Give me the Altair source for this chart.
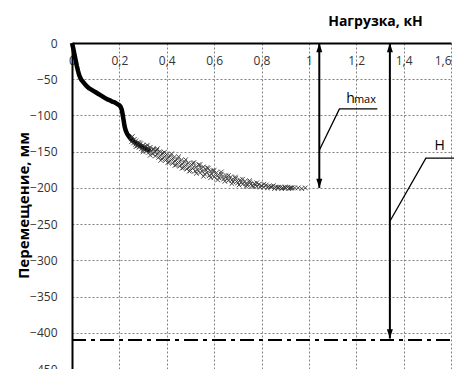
import altair as alt
import pandas as pd

# ---- data ----
x_ticks = [0, 0.2, 0.4, 0.6, 0.8, 1.0, 1.2, 1.4, 1.6]
y_ticks = [0, -50, -100, -150, -200, -250, -300, -350, -400, -450]

# dense initial part of the load-displacement curve
load_dense = [0, 0.005, 0.01, 0.015, 0.02, 0.025, 0.03, 0.035, 0.04, 0.05, 0.06, 0.07,
              0.08, 0.09, 0.10, 0.11, 0.12, 0.13, 0.14, 0.15, 0.16, 0.17, 0.18, 0.19,
              0.20, 0.205, 0.21, 0.213, 0.216, 0.219, 0.222, 0.226, 0.232, 0.24, 0.25,
              0.26, 0.27, 0.28, 0.29, 0.30, 0.31, 0.32, 0.33]
disp_dense = [0, -7, -15, -23, -31, -38, -44, -48, -51, -55, -59, -62,
              -64, -66, -68, -70, -72, -74, -76, -78, -79, -81, -82, -84,
              -86, -88, -92, -97, -103, -109, -115, -120, -125, -129, -133,
              -136, -138, -140, -142, -144, -146, -147, -149]

# scattered measurements
load_scatter = [0.25, 0.252, 0.255, 0.26, 0.263, 0.268, 0.27, 0.275, 0.28, 0.283, 0.29, 0.293,
                0.3, 0.302, 0.308, 0.312, 0.318, 0.32, 0.325, 0.33, 0.335, 0.34, 0.343, 0.35,
                0.352, 0.358, 0.36, 0.366, 0.37, 0.375, 0.38, 0.384, 0.39, 0.395, 0.4, 0.404,
                0.41, 0.415, 0.42, 0.425, 0.43, 0.435, 0.44, 0.445, 0.45, 0.455, 0.46, 0.465,
                0.47, 0.475, 0.48, 0.485, 0.49, 0.495, 0.5, 0.505, 0.51, 0.515, 0.52, 0.525,
                0.53, 0.535, 0.54, 0.545, 0.55, 0.555, 0.56, 0.565, 0.57, 0.575, 0.58, 0.585,
                0.59, 0.595, 0.6, 0.61, 0.615, 0.62, 0.63, 0.635, 0.64, 0.65, 0.655, 0.66,
                0.67, 0.675, 0.68, 0.69, 0.695, 0.7, 0.71, 0.715, 0.72, 0.73, 0.735, 0.74,
                0.75, 0.755, 0.76, 0.77, 0.775, 0.78, 0.79, 0.8, 0.81, 0.82, 0.83, 0.84,
                0.85, 0.86, 0.87, 0.88, 0.89, 0.9, 0.91, 0.92, 0.93, 0.94, 0.955, 0.97, 0.985]
disp_scatter = [-131, -136, -129, -138, -133, -140, -135, -142, -137, -144, -139, -146,
                -141, -147, -143, -149, -141, -146, -151, -144, -149, -153, -146, -151,
                -156, -148, -153, -158, -150, -155, -160, -152, -157, -162, -154, -159,
                -164, -156, -161, -166, -158, -163, -168, -160, -165, -170, -162, -167,
                -172, -164, -169, -174, -166, -171, -176, -168, -173, -165, -177, -171,
                -175, -168, -179, -173, -177, -171, -181, -175, -179, -173, -183, -177,
                -181, -176, -185, -179, -183, -186, -181, -185, -188, -183, -187, -190,
                -185, -189, -192, -187, -191, -193, -189, -192, -195, -191, -194, -196,
                -192, -195, -197, -194, -196, -198, -195, -197, -199, -196, -198, -199,
                -197, -199, -200, -199, -200, -200, -199, -200, -200, -200, -200, -201, -200]

# second pass of readings (outer edges of the scatter band)
load_scatter2 = [0.27, 0.285, 0.3, 0.315, 0.33, 0.345, 0.36, 0.375, 0.39, 0.405, 0.42, 0.435,
                 0.45, 0.465, 0.48, 0.495, 0.51, 0.525, 0.54, 0.555, 0.57, 0.585, 0.6, 0.615,
                 0.63, 0.645, 0.66, 0.675, 0.69, 0.705, 0.72, 0.735, 0.75, 0.765, 0.78, 0.795,
                 0.81, 0.825, 0.84, 0.855, 0.87, 0.885, 0.9, 0.915, 0.925]
disp_scatter2 = [-143, -138, -150, -143, -155, -147, -146, -162, -151, -165, -153, -169,
                 -157, -173, -161, -177, -166, -180, -168, -184, -172, -186, -176, -189,
                 -178, -191, -183, -194, -185, -196, -188, -198, -190, -198, -193, -199,
                 -195, -200, -198, -201, -199, -201, -199, -201, -200]

dashdot_level = [-410]

arrow_x = [1.044, 1.342]
arrow_top = [0, 0]
arrow_bottom = [-200, -408]

# leader lines (label callouts)
leader_name = ["hmax", "hmax", "hmax", "H", "H", "H"]
leader_x = [1.044, 1.129, 1.289, 1.342, 1.494, 1.64]
leader_y = [-148, -91, -91, -246, -159, -159]

label_text = ["h", "max", "H"]
label_x = [1.158, 1.19, 1.53]
label_y = [-83, -83, -148]
label_size = [14, 11, 14]

W, H = 379, 326
FONT = "Open Sans"

xs = alt.Scale(domain=[0, 1.6], nice=False)
ys = alt.Scale(domain=[-450, 0], nice=False)

dense_df = pd.DataFrame({"load": load_dense, "disp": disp_dense})
scatter_df = pd.DataFrame({"load": load_scatter + load_scatter2,
                           "disp": disp_scatter + disp_scatter2})

x_axis = alt.Axis(
    orient="top", values=x_ticks, grid=True, gridDash=[2, 2], gridColor="#808080",
    gridWidth=1, domainColor="black", domainWidth=2, ticks=False, tickSize=0,
    labelPadding=-24, labelFlush=False, labelFont=FONT, labelFontSize=12,
    labelColor="#333333",
    labelAlign={"expr": "datum.value >= 1.6 ? 'right' : 'center'"},
    labelExpr="replace(format(datum.value, '.1~f'), '.', ',')",
    title="Нагрузка, кН", titleFont=FONT, titleFontSize=14, titleFontWeight="bold",
    titleColor="black", titleX=303, titleY=-22, titleAlign="center",
    titleBaseline="middle", titleAngle=0,
)
y_axis = alt.Axis(
    orient="left", values=y_ticks, grid=True, gridDash=[2, 2], gridColor="#808080",
    gridWidth=1, domainColor="black", domainWidth=2, ticks=False, tickSize=0,
    labelPadding=15, labelFlush=False, labelFont=FONT, labelFontSize=12,
    labelColor="#333333",
    title="Перемещение, мм", titleFont=FONT, titleFontSize=15, titleFontWeight="bold",
    titleColor="black", titleX=-49, titleY=162, titleAlign="center",
    titleBaseline="middle", titleAngle=270,
)


def X(field):
    return alt.X(field, scale=xs, axis=x_axis)


def Y(field):
    return alt.Y(field, scale=ys, axis=y_axis)


line = alt.Chart(dense_df).mark_line(color="black", strokeWidth=4.5).encode(
    x=X("load:Q"), y=Y("disp:Q"),
)

pts = alt.Chart(scatter_df).mark_point(
    shape="M-1,-1L1,1M-1,1L1,-1", size=22, strokeWidth=1, color="#333333",
    filled=False, opacity=0.85,
).encode(x=X("load:Q"), y=Y("disp:Q"))

dash_df = pd.DataFrame({"y": dashdot_level, "x0": [0], "x1": [1.6]})
dashdot = alt.Chart(dash_df).mark_rule(
    color="black", strokeWidth=2.2, strokeDash=[14, 5, 4, 5]
).encode(x=X("x0:Q"), x2="x1:Q", y=Y("y:Q"))

arr_df = pd.DataFrame({"x": arrow_x, "top": arrow_top, "bottom": arrow_bottom})
arrows = alt.Chart(arr_df).mark_rule(color="black", strokeWidth=2).encode(
    x=X("x:Q"), y=Y("top:Q"), y2="bottom:Q",
)
heads_top = alt.Chart(arr_df).mark_point(
    shape="M0,0L-0.75,2.3L0.75,2.3Z", size=64, filled=True, color="black", opacity=1
).encode(x=X("x:Q"), y=Y("top:Q"))
heads_bot = alt.Chart(arr_df).mark_point(
    shape="M0,0L-0.75,-2.3L0.75,-2.3Z", size=64, filled=True, color="black", opacity=1
).encode(x=X("x:Q"), y=Y("bottom:Q"))

lead_df = pd.DataFrame({"name": leader_name, "x": leader_x, "y": leader_y,
                        "o": list(range(len(leader_x)))})
leaders = alt.Chart(lead_df).mark_line(color="black", strokeWidth=1.3).encode(
    x=X("x:Q"), y=Y("y:Q"), detail="name:N", order="o:Q",
)

lab_df = pd.DataFrame({"t": label_text, "x": label_x, "y": label_y, "s": label_size})
labels = alt.Chart(lab_df).mark_text(
    font=FONT, color="black", align="left", baseline="alphabetic"
).encode(
    x=X("x:Q"), y=Y("y:Q"), text="t:N",
    size=alt.Size("s:Q", scale=None, legend=None),
)

chart = alt.layer(
    line, pts, dashdot, arrows, heads_top, heads_bot, leaders, labels
).properties(
    width=W, height=H,
    autosize=alt.AutoSizeParams(type="none"),
    padding={"left": 64, "top": 35, "right": 3, "bottom": 0},
).configure_view(stroke=None)

chart.save("out.html", embed_options={"renderer": "svg", "actions": False})
